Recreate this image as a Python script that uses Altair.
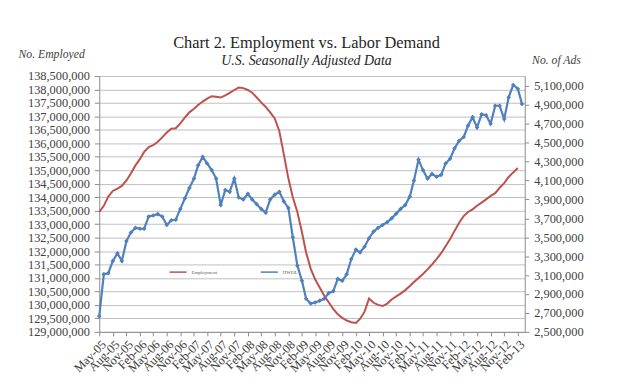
import altair as alt
import pandas as pd

# ---------------- texts ----------------
title_text = "Chart 2. Employment vs. Labor Demand"
subtitle_text = "U.S. Seasonally Adjusted Data"
left_title = "No. Employed"
right_title = "No. of Ads"
series_names = ["Employment", "HWOL"]
series_colors = ["#C0504D", "#4F81BD"]

# ---------------- categories (monthly, May-05 onward) ----------------
hwol_months = pd.date_range("2005-05-01", periods=95, freq="MS")   # May-05 .. Mar-13
emp_months = hwol_months[:94]                                     # May-05 .. Feb-13

# ---------------- series values (millions) ----------------
employment_millions = [
    133.45, 133.68, 134.02, 134.23, 134.32, 134.42, 134.62, 134.88, 135.18, 135.42,
    135.68, 135.86, 135.93, 136.06, 136.22, 136.40, 136.54, 136.56, 136.74, 136.95,
    137.15, 137.28, 137.42, 137.55, 137.66, 137.75, 137.73, 137.70, 137.78, 137.87,
    137.98, 138.07, 138.05, 137.98, 137.88, 137.70, 137.52, 137.35, 137.15, 136.92,
    136.45, 135.60, 134.70, 134.00, 133.45, 132.70, 131.95, 131.35, 130.95, 130.65,
    130.35, 130.10, 129.85, 129.65, 129.52, 129.42, 129.36, 129.33, 129.48, 129.75,
    130.24, 130.08, 130.00, 129.96, 130.05, 130.20, 130.32, 130.42, 130.55, 130.70,
    130.85, 131.00, 131.15, 131.32, 131.50, 131.70, 131.92, 132.18, 132.45, 132.75,
    133.05, 133.30, 133.45, 133.55, 133.68, 133.80, 133.92, 134.05, 134.15, 134.35,
    134.52, 134.75, 134.92, 135.08,
]
hwol_millions = [
    2.665, 3.11, 3.12, 3.25, 3.33, 3.25, 3.46, 3.55, 3.60, 3.59,
    3.59, 3.72, 3.73, 3.745, 3.72, 3.63, 3.68, 3.685, 3.80, 3.91,
    4.02, 4.12, 4.26, 4.35, 4.28, 4.21, 4.12, 3.84, 4.00, 3.98,
    4.12, 3.92, 3.90, 3.96, 3.90, 3.85, 3.80, 3.76, 3.90, 3.95,
    3.98, 3.88, 3.81, 3.50, 3.20, 3.04, 2.85, 2.80, 2.81, 2.83,
    2.85, 2.91, 2.93, 3.06, 3.04, 3.11, 3.27, 3.37, 3.34, 3.40,
    3.49, 3.56, 3.60, 3.63, 3.66, 3.70, 3.75, 3.80, 3.84, 3.93,
    4.10, 4.32, 4.21, 4.12, 4.17, 4.14, 4.16, 4.28, 4.33, 4.44,
    4.52, 4.56, 4.68, 4.77, 4.66, 4.80, 4.79, 4.70, 4.89, 4.89,
    4.75, 4.98, 5.11, 5.07, 4.91,
]

# ---------------- tick values ----------------
left_ticks = list(range(129_000_000, 138_500_001, 500_000))
right_ticks = list(range(2_500_000, 5_100_001, 200_000))
x_tick_months = pd.date_range("2005-05-01", "2013-02-01", freq="3MS")

emp_df = pd.DataFrame({
    "month": emp_months,
    "value": [v * 1_000_000 for v in employment_millions],
    "series": series_names[0],
})
hwol_df = pd.DataFrame({
    "month": hwol_months,
    "value": [v * 1_000_000 for v in hwol_millions],
    "series": series_names[1],
})

FONT = "Liberation Serif"
GRID = "#BFBFBF"
AXIS_LINE = "#8C8C8C"

x_enc = alt.X(
    "month:T",
    scale=alt.Scale(domain=[alt.DateTime(year=2005, month=5, date=1),
                            alt.DateTime(year=2013, month=3, date=20)]),
    axis=alt.Axis(
        values=[alt.DateTime(year=d.year, month=d.month, date=1) for d in x_tick_months],
        format="%b-%y", labelAngle=-45, labelAlign="right", labelBaseline="top",
        labelFlush=False, labelOverlap=False, title=None, grid=False,
        tickSize=4, labelPadding=2,
    ),
)

color_enc = alt.Color(
    "series:N",
    scale=alt.Scale(domain=series_names, range=series_colors),
    legend=alt.Legend(
        orient="none", legendX=70, legendY=188, direction="horizontal", title=None,
        symbolType="stroke", symbolSize=300, symbolStrokeWidth=1.5,
        labelFontSize=5, labelColor="#595959", labelFont=FONT, columnPadding=40,
    ),
)

emp_line = alt.Chart(emp_df).mark_line(strokeWidth=2).encode(
    x=x_enc,
    y=alt.Y(
        "value:Q",
        scale=alt.Scale(domain=[129_000_000, 138_500_000], nice=False, zero=False),
        axis=alt.Axis(orient="left", values=left_ticks, format=",d", title=None,
                      grid=True, gridColor=GRID, gridWidth=1, tickSize=5,
                      labelPadding=5, labelOverlap=False),
    ),
    color=color_enc,
)

hwol_line = alt.Chart(hwol_df).mark_line(
    strokeWidth=2.2,
    point=alt.OverlayMarkDef(shape="diamond", size=22, filled=True),
).encode(
    x=x_enc,
    y=alt.Y(
        "value:Q",
        scale=alt.Scale(domain=[2_500_000, 5_205_000], nice=False, zero=False),
        axis=alt.Axis(orient="right", values=right_ticks, format=",d", title=None,
                      grid=False, tickSize=4, labelPadding=5, labelOverlap=False),
    ),
    color=color_enc,
)


def text_layer(txt, x, y, size, style="normal", color="#262626"):
    return alt.Chart(alt.Data(values=[{"t": txt}])).mark_text(
        font=FONT, fontSize=size, fontStyle=style, align="center",
        baseline="alphabetic", color=color,
    ).encode(x=alt.value(x), y=alt.value(y), text="t:N")


chart = alt.layer(
    emp_line,
    hwol_line,
    text_layer(title_text, 209, -28.5, 16.5),
    text_layer(subtitle_text, 209, -11.5, 14, "italic"),
    text_layer(left_title, -48, -18, 11.8, "italic", "#404040"),
    text_layer(right_title, 461, -12, 11.8, "italic", "#404040"),
).resolve_scale(
    y="independent"
).properties(
    width=429,
    height=258,
    autosize=alt.AutoSizeParams(type="none"),
    padding={"left": 92, "top": 67, "right": 92, "bottom": 48},
).configure_axis(
    labelFont=FONT, labelFontSize=12.5, labelColor="#404040",
    domainColor=AXIS_LINE, tickColor=AXIS_LINE,
).configure_view(stroke=None)

chart.save("out.html", embed_options={"renderer": "svg", "actions": False})
